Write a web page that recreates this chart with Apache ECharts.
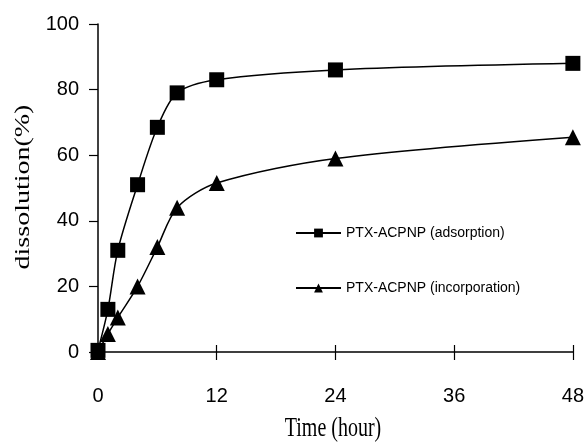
<!DOCTYPE html>
<html>
<head>
<meta charset="utf-8">
<script src="https://cdn.jsdelivr.net/npm/echarts@6/dist/echarts.min.js"></script>
<style>
  html, body { margin: 0; padding: 0; background: #fff; }
  #chart { width: 587px; height: 442px; }
</style>
</head>
<body>
<div id="chart"></div>
<script>
// time points (hour) and dissolution (%)
var times = [0, 1, 2, 4, 6, 8, 12, 24, 48];
var adsorption = [0.5, 13, 31, 51, 68.5, 79, 83, 86, 88];
var incorporation = [0, 5.5, 10.5, 20, 32, 44, 51.5, 59, 65.5];
var xTicks = [0, 12, 24, 36, 48];
var yTicks = [0, 20, 40, 60, 80, 100];
var seriesNames = ['PTX-ACPNP (adsorption)', 'PTX-ACPNP (incorporation)'];

var sans = "'Liberation Sans', Arial, sans-serif";
var serif = "'Liberation Serif', 'Times New Roman', serif";

function pairs(xs, ys) {
  return xs.map(function (x, i) { return [x, ys[i]]; });
}

var chart = echarts.init(document.getElementById('chart'));
chart.setOption({
  animation: false,
  backgroundColor: '#fff',
  grid: { left: 98, right: 9, top: 24, bottom: 90 },
  legend: {
    orient: 'vertical',
    left: 290,
    top: 221,
    itemWidth: 45,
    itemHeight: 11,
    itemGap: 41,
    textStyle: { fontFamily: sans, fontSize: 14, color: '#000' },
    data: seriesNames
  },
  xAxis: [{
    type: 'value',
    min: xTicks[0],
    max: xTicks[xTicks.length - 1],
    interval: 12,
    axisLine: { lineStyle: { color: '#000', width: 1.5 } },
    axisTick: { show: true, length: 8, lineStyle: { color: '#000', width: 1.2 } },
    axisLabel: { margin: 34, fontFamily: sans, fontSize: 20, color: '#000' },
    splitLine: { show: false }
  }, {
    type: 'value',
    position: 'bottom',
    min: xTicks[0],
    max: xTicks[xTicks.length - 1],
    interval: 12,
    axisLine: { show: false },
    axisTick: { show: true, inside: true, length: 7, lineStyle: { color: '#000', width: 1.2 } },
    axisLabel: { show: false },
    splitLine: { show: false }
  }],
  yAxis: {
    type: 'value',
    min: yTicks[0],
    max: yTicks[yTicks.length - 1],
    interval: 20,
    axisLine: { show: true, lineStyle: { color: '#000', width: 1.5 } },
    axisTick: { show: true, length: 9, lineStyle: { color: '#000', width: 1.2 } },
    axisLabel: { margin: 19, fontFamily: sans, fontSize: 20, color: '#000' },
    splitLine: { show: false }
  },
  graphic: [{
    type: 'text',
    x: 333, y: 429,
    scaleY: 1.4,
    style: { text: 'Time (hour)', font: '20px ' + serif, fill: '#000', align: 'center', verticalAlign: 'middle' }
  }, {
    type: 'text',
    x: 24, y: 187,
    rotation: Math.PI / 2,
    scaleX: 1.4,
    style: { text: 'dissolution(%)', font: '20px ' + serif, fill: '#000', align: 'center', verticalAlign: 'middle' }
  }],
  series: [{
    name: seriesNames[0],
    type: 'line',
    smooth: 0.3,
    symbol: 'rect',
    symbolSize: 15,
    itemStyle: { color: '#000' },
    lineStyle: { color: '#000', width: 1.5 },
    data: pairs(times, adsorption)
  }, {
    name: seriesNames[1],
    type: 'line',
    smooth: 0.3,
    symbol: 'triangle',
    symbolSize: 16,
    itemStyle: { color: '#000' },
    lineStyle: { color: '#000', width: 1.5 },
    data: pairs(times, incorporation)
  }]
});
</script>
</body>
</html>
